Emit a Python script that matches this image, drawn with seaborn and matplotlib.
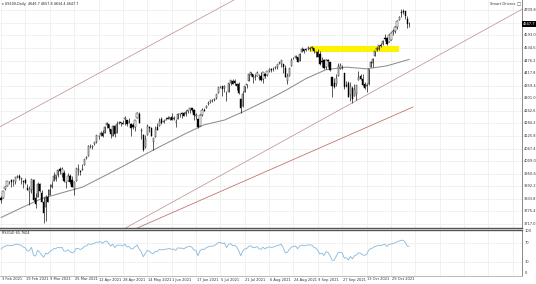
import numpy as np
import pandas as pd
import matplotlib
matplotlib.use("Agg")
import matplotlib.pyplot as plt
import matplotlib.transforms as mtransforms
from matplotlib.patches import Rectangle
import seaborn as sns

# ---------------- data (daily bars, every weekday) ----------------
first_day = "2021-02-03"
last_day = "2021-11-11"

opens = [
    3840, 3837, 3878,
    3893, 3910, 3920, 3917, 3912,
    3936, 3940, 3928, 3915, 3921,
    3886, 3865, 3873, 3920, 3839,
    3843, 3903, 3863, 3818, 3794,
    3844, 3851, 3891, 3916, 3924,
    3943, 3974, 3949, 3953, 3914,
    3917, 3938, 3920, 3879, 3917,
    3970, 3963, 3967, 3993, 4022,
    4034, 4075, 4074, 4089, 4096,
    4124, 4131, 4141, 4140, 4175,
    4180, 4159, 4128, 4171, 4139,
    4185, 4189, 4185, 4206, 4198,
    4192, 4180, 4178, 4169, 4211,
    4228, 4151, 4130, 4074, 4130,
    4170, 4165, 4099, 4122, 4169,
    4171, 4205, 4191, 4201, 4210,
    4205, 4216, 4207, 4191, 4206,
    4229, 4233, 4232, 4228, 4242,
    4248, 4255, 4249, 4217, 4204,
    4174, 4224, 4249, 4256, 4274,
    4285, 4294, 4291, 4301, 4327,
    4352, 4357, 4351, 4321, 4330,
    4372, 4381, 4381, 4369, 4368,
    4297, 4266, 4332, 4361, 4381,
    4409, 4416, 4402, 4403, 4396,
    4406, 4392, 4416, 4409, 4429,
    4438, 4436, 4443, 4446, 4465,
    4462, 4462, 4441, 4383, 4406,
    4450, 4485, 4490, 4493, 4474,
    4514, 4529, 4528, 4534, 4532,
    4536, 4536, 4518, 4514, 4506,
    4475, 4479, 4447, 4477, 4469,
    4402, 4374, 4367, 4406, 4439,
    4443, 4419, 4363, 4371, 4317,
    4348, 4310, 4320, 4384, 4407,
    4391, 4368, 4359, 4366, 4448,
    4463, 4497, 4524, 4532, 4547,
    4553, 4579, 4580, 4563, 4573,
    4610, 4613, 4631, 4663, 4700,
    4707, 4707, 4670, 4646.7,
]
highs = [
    3847, 3872, 3894,
    3916, 3919, 3924, 3925, 3937,
    3946, 3950, 3933, 3921, 3930,
    3903, 3895, 3928, 3926, 3862,
    3914, 3906, 3874, 3843, 3851,
    3881, 3904, 3918, 3960, 3944,
    3969, 3982, 3983, 3969, 3919,
    3956, 3949, 3942, 3919, 3978,
    3994, 3968, 3994, 4021, 4034,
    4084, 4087, 4083, 4098, 4129,
    4131, 4148, 4152, 4173, 4192,
    4180, 4160, 4175, 4179, 4194,
    4194, 4193, 4201, 4219, 4199,
    4209, 4187, 4187, 4202, 4238,
    4237, 4162, 4134, 4131, 4183,
    4171, 4170, 4116, 4172, 4188,
    4209, 4213, 4203, 4213, 4218,
    4216, 4235, 4218, 4204, 4234,
    4233, 4237, 4238, 4249, 4249,
    4255, 4258, 4252, 4233, 4204,
    4226, 4255, 4256, 4271, 4287,
    4293, 4300, 4302, 4320, 4355,
    4358, 4359, 4362, 4337, 4372,
    4387, 4393, 4393, 4370, 4376,
    4301, 4337, 4359, 4369, 4415,
    4422, 4416, 4416, 4430, 4412,
    4423, 4424, 4417, 4430, 4441,
    4440, 4445, 4449, 4461, 4468,
    4480, 4462, 4456, 4419, 4441,
    4489, 4493, 4501, 4495, 4513,
    4538, 4532, 4537, 4546, 4541,
    4544, 4536, 4521, 4529, 4521,
    4492, 4486, 4486, 4485, 4471,
    4402, 4394, 4416, 4465, 4463,
    4458, 4420, 4383, 4383, 4376,
    4356, 4369, 4365, 4430, 4413,
    4415, 4375, 4373, 4439, 4475,
    4487, 4520, 4540, 4551, 4560,
    4572, 4599, 4585, 4598, 4609,
    4621, 4635, 4664, 4683, 4718,
    4714, 4709, 4685, 4657.8,
]
lows = [
    3816, 3836, 3874,
    3892, 3902, 3890, 3895, 3905,
    3930, 3923, 3901, 3886, 3902,
    3874, 3806, 3859, 3822, 3790,
    3843, 3868, 3818, 3723, 3730,
    3819, 3851, 3885, 3916, 3915,
    3937, 3950, 3935, 3910, 3885,
    3917, 3902, 3889, 3853, 3917,
    3944, 3944, 3967, 3990, 4018,
    4034, 4068, 4064, 4082, 4095,
    4114, 4125, 4121, 4140, 4165,
    4150, 4118, 4126, 4123, 4139,
    4182, 4174, 4181, 4177, 4174,
    4188, 4128, 4159, 4148, 4208,
    4187, 4111, 4057, 4069, 4130,
    4143, 4125, 4062, 4121, 4152,
    4171, 4182, 4188, 4198, 4203,
    4200, 4198, 4199, 4168, 4206,
    4216, 4211, 4219, 4220, 4233,
    4234, 4238, 4202, 4203, 4164,
    4174, 4218, 4241, 4256, 4271,
    4281, 4285, 4287, 4300, 4326,
    4347, 4314, 4330, 4289, 4329,
    4365, 4368, 4363, 4341, 4322,
    4233, 4260, 4329, 4351, 4381,
    4405, 4372, 4387, 4403, 4386,
    4381, 4374, 4397, 4405, 4423,
    4425, 4430, 4437, 4436, 4461,
    4447, 4418, 4400, 4368, 4406,
    4450, 4482, 4486, 4469, 4474,
    4514, 4513, 4522, 4527, 4522,
    4530, 4513, 4493, 4493, 4458,
    4446, 4435, 4438, 4447, 4427,
    4305, 4347, 4360, 4406, 4436,
    4436, 4346, 4352, 4306, 4289,
    4279, 4310, 4293, 4384, 4386,
    4360, 4342, 4329, 4364, 4448,
    4448, 4497, 4520, 4527, 4538,
    4547, 4569, 4551, 4563, 4572,
    4595, 4604, 4621, 4663, 4681,
    4694, 4670, 4630, 4634.4,
]
closes = [
    3830, 3872, 3887,
    3916, 3911, 3910, 3916, 3935,
    3940, 3933, 3931, 3914, 3907,
    3877, 3881, 3925, 3829, 3811,
    3902, 3870, 3820, 3768, 3842,
    3821, 3875, 3899, 3939, 3943,
    3969, 3963, 3974, 3915, 3913,
    3941, 3911, 3889, 3910, 3975,
    3971, 3959, 3973, 4020, 4030,
    4078, 4074, 4080, 4097, 4129,
    4128, 4142, 4125, 4170, 4185,
    4163, 4135, 4173, 4135, 4180,
    4188, 4187, 4183, 4211, 4181,
    4193, 4165, 4168, 4202, 4233,
    4188, 4152, 4063, 4113, 4174,
    4163, 4128, 4116, 4159, 4156,
    4197, 4188, 4196, 4201, 4204,
    4212, 4202, 4208, 4193, 4230,
    4227, 4227, 4220, 4239, 4247,
    4255, 4247, 4224, 4222, 4166,
    4225, 4246, 4242, 4266, 4281,
    4291, 4292, 4298, 4320, 4352,
    4354, 4344, 4358, 4321, 4370,
    4385, 4369, 4374, 4360, 4327,
    4258, 4323, 4359, 4367, 4412,
    4422, 4401, 4401, 4419, 4395,
    4387, 4423, 4403, 4429, 4437,
    4432, 4437, 4448, 4461, 4468,
    4480, 4448, 4400, 4406, 4442,
    4480, 4486, 4496, 4470, 4509,
    4529, 4523, 4524, 4537, 4535,
    4538, 4520, 4514, 4493, 4459,
    4469, 4443, 4481, 4474, 4433,
    4358, 4354, 4396, 4449, 4455,
    4443, 4353, 4359, 4308, 4357,
    4300, 4346, 4364, 4400, 4391,
    4361, 4351, 4364, 4438, 4471,
    4486, 4520, 4536, 4550, 4545,
    4566, 4575, 4552, 4596, 4605,
    4614, 4631, 4661, 4680, 4698,
    4702, 4685, 4647, 4647.7,
]
# closes of the weeks before the first bar, used only to warm up the RSI
warmup_closes = [3701, 3727, 3748, 3804, 3825, 3800, 3801, 3810, 3796, 3768,
                 3799, 3852, 3853, 3841, 3855, 3850, 3751, 3787, 3714, 3774, 3826]

# 50-period moving average (bar number, value)
ma_bar = [0, 10, 20, 30, 40, 50, 60, 70, 80, 90, 100, 110, 120, 130, 140,
          150, 160, 170, 180, 190, 201]
ma_value = [3747, 3792, 3835, 3862, 3888, 3936, 3985, 4036, 4085, 4133, 4178,
            4200, 4242, 4288, 4337, 4392, 4434, 4446, 4438, 4452, 4482]

# drawn objects: (bar number, price) anchors
channel_upper = [(-0.5, 4169), (88.1, 4622)]
channel_lower = [(88.1, 3838), (211.2, 4479)]
trend_line = [(67.0, 3698), (202.9, 4261)]
zone_bars = [152, 196]
zone_prices = [4515, 4546]

price_ticks = [3717.0, 3775.4, 3833.8, 3892.2, 3950.6, 4009.0, 4067.4, 4125.8,
               4184.2, 4242.6, 4301.0, 4359.4, 4417.8, 4476.2, 4534.6, 4593.0,
               4651.4, 4709.8]
rsi_ticks = [100, 70, 30, 0]
rsi_levels = [70, 30]
date_labels = ["3 Feb 2021", "19 Feb 2021", "9 Mar 2021", "25 Mar 2021",
               "12 Apr 2021", "28 Apr 2021", "14 May 2021", "1 Jun 2021",
               "17 Jun 2021", "5 Jul 2021", "21 Jul 2021", "6 Aug 2021",
               "24 Aug 2021", "9 Sep 2021", "27 Sep 2021", "13 Oct 2021",
               "29 Oct 2021"]
header_text = "US500,Daily  4646.7 4657.8 4634.4 4647.7"
rsi_text = "RSI(14) 65.7604"
brand_text = "Smart Drivers"
last_price_text = "4647.7"

# ---------------- frame ----------------
dates = pd.bdate_range(first_day, last_day)
df = pd.DataFrame({"date": dates, "open": opens, "high": highs,
                   "low": lows, "close": closes})
df["bar"] = np.arange(len(df))

# RSI(14), Wilder smoothing
allc = pd.Series(warmup_closes + closes, dtype=float)
delta = allc.diff().iloc[1:]
gain = delta.clip(lower=0).ewm(alpha=1 / 14, adjust=True).mean()
loss = (-delta).clip(lower=0).ewm(alpha=1 / 14, adjust=True).mean()
rsi_all = 100 - 100 / (1 + gain / loss)
df["rsi"] = rsi_all.iloc[-len(df):].values

sns.set_theme(style="white")
plt.rcParams["font.family"] = ["DejaVu Sans"]

W, H, DPI = 536, 284, 100
fig = plt.figure(figsize=(W / DPI, H / DPI), dpi=DPI)
fig.patch.set_facecolor("white")
right = 522 / W
ax = fig.add_axes([0, 1 - 228 / H, right, 228 / H])
axr = fig.add_axes([0, 1 - 275.5 / H, right, 46 / H])

XL = (-0.5, 256.5)
grid_bars = np.arange(0, XL[1], 12)
grid_c = "#ececec"
for a in (ax, axr):
    a.set_facecolor("white")
    a.set_xlim(*XL)
    a.set_xticks(grid_bars)
    a.tick_params(length=0, labelbottom=False, labelleft=False)
    a.grid(True, color=grid_c, lw=0.5)
    a.set_axisbelow(True)
    for s in a.spines.values():
        s.set_visible(False)

# main panel
ax.set_ylim(3698.4, 4757.9)
ax.set_yticks(price_ticks)
ax.spines["bottom"].set_visible(True)
ax.spines["bottom"].set_color("#555555")
ax.spines["bottom"].set_linewidth(1.0)
ax.spines["right"].set_visible(True)
ax.spines["right"].set_color("#8a8a8a")
ax.spines["right"].set_linewidth(0.7)

# yellow zone
ax.add_patch(Rectangle((zone_bars[0], zone_prices[0]), zone_bars[1] - zone_bars[0],
                       zone_prices[1] - zone_prices[0], facecolor="#fff200",
                       edgecolor="none", zorder=1))
# trend channel
ax.axline(channel_upper[0], channel_upper[1], color="#c09590", lw=0.55, zorder=1.2)
ax.axline(channel_lower[0], channel_lower[1], color="#c09590", lw=0.55, zorder=1.2)
ax.plot([p[0] for p in trend_line], [p[1] for p in trend_line],
        color="#bd6b63", lw=0.55, zorder=1.2)
# moving average
sns.lineplot(x=ma_bar, y=ma_value, ax=ax, color="#8f8f8f", lw=0.75, zorder=1.5)

# candles
up = df["close"] >= df["open"]
ax.vlines(df["bar"], df["low"], df["high"], color="black", lw=0.45, zorder=3)
body_lo = np.minimum(df["open"], df["close"])
body_h = np.maximum((df["close"] - df["open"]).abs(), 1.0)
ax.bar(df["bar"], body_h, bottom=body_lo, width=0.6,
       color=np.where(up, "white", "black"), edgecolor="black",
       linewidth=0.3, zorder=4)
ax.set_xlabel("")
ax.set_ylabel("")

# price scale labels
tr = mtransforms.blended_transform_factory(ax.transAxes, ax.transData)
last = df["close"].iloc[-1]
for v in price_ticks:
    if abs(v - last) < 25:
        continue
    ax.text(1.004, v, f"{v:.1f}", transform=tr, fontsize=2.6, color="#333333",
            ha="left", va="center", clip_on=False)
ax.text(1.002, last, last_price_text, transform=tr, fontsize=2.6, color="white",
        ha="left", va="center", clip_on=False,
        bbox=dict(facecolor="black", edgecolor="none", pad=0.8))

# RSI panel
axr.set_ylim(0, 100)
axr.set_yticks(rsi_levels)
sns.lineplot(data=df, x="bar", y="rsi", ax=axr, color="#86b8dc", lw=0.6)
axr.set_xlabel("")
axr.set_ylabel("")
axr.spines["top"].set_visible(True)
axr.spines["top"].set_color("#555555")
axr.spines["top"].set_linewidth(1.0)
axr.spines["right"].set_visible(True)
axr.spines["right"].set_color("#8a8a8a")
axr.spines["right"].set_linewidth(0.7)
axr.spines["bottom"].set_visible(True)
axr.spines["bottom"].set_color("#b0b0b0")
axr.spines["bottom"].set_linewidth(0.6)
trr = mtransforms.blended_transform_factory(axr.transAxes, axr.transData)
for v in rsi_ticks:
    va = "top" if v == 100 else ("bottom" if v == 0 else "center")
    axr.text(1.006, v, f"{v}", transform=trr, fontsize=2.6, color="#333333",
             ha="left", va=va, clip_on=False)

# date labels
trd = mtransforms.blended_transform_factory(axr.transData, fig.transFigure)
for lbl in date_labels:
    i = dates.get_loc(pd.to_datetime(lbl, format="%d %b %Y"))
    axr.text(max(i, XL[0]) + 0.3, 1 - 279.5 / H, lbl, transform=trd, fontsize=2.6,
             color="#333333", ha="left", va="center", clip_on=False)

# header texts
fig.text(1.5 / W, 1 - 3.5 / H, "\u25be " + header_text, fontsize=2.4,
         color="#222222", ha="left", va="center")
fig.text(2 / W, 1 - 233 / H, rsi_text, fontsize=2.4, color="#222222",
         ha="left", va="center")
fig.text(515 / W, 1 - 4 / H, brand_text, fontsize=2.6, color="#333333",
         ha="right", va="center")
fig.text(517 / W, 1 - 4 / H, "\u25a1", fontsize=3.2, color="#555555",
         ha="left", va="center")

fig.savefig("out.png", dpi=DPI, facecolor="white")
